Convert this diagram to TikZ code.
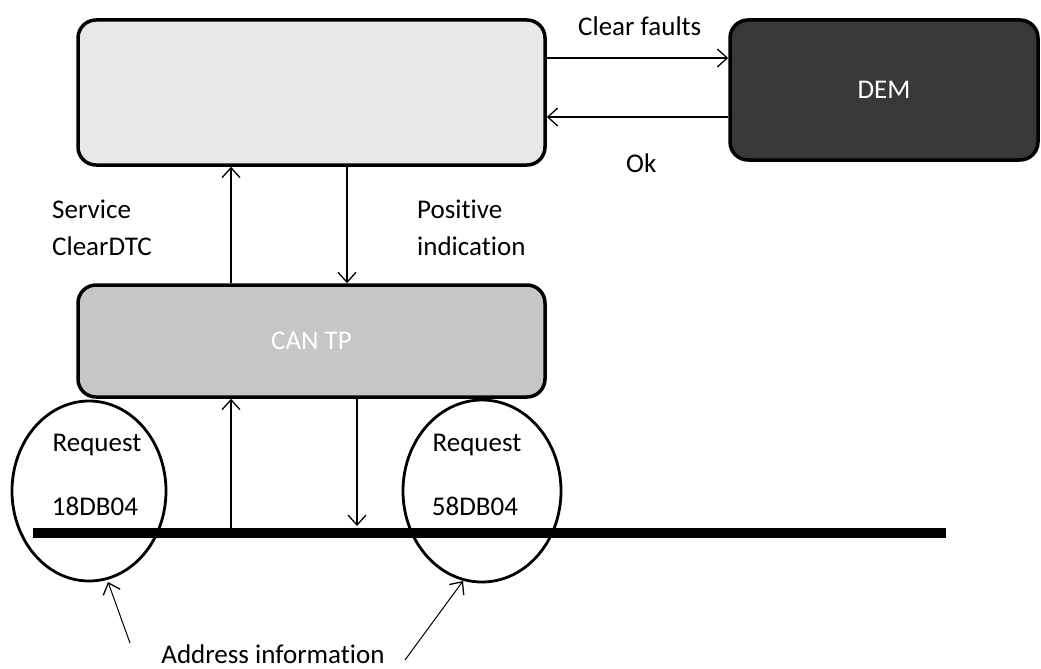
\documentclass[tikz,border=0pt]{standalone}
\usepackage{fontspec}
\setmainfont{Carlito}[Ligatures=CommonOff]
\usetikzlibrary{arrows.meta}
\begin{document}
\begin{tikzpicture}[x=1pt,y=-1pt,
  box/.style={draw=black,line width=3.5pt,rounded corners=18pt,inner sep=0pt},
  lbl/.style={font=\fontsize{27}{37}\selectfont,align=left,text=black,inner sep=0pt},
  conn/.style={line width=1.3pt,-{Straight Barb[length=10pt,width=18pt,line width=1.3pt]}},
]
\useasboundingbox (0,0) rectangle (1041,669);
% boxes
\node[box,fill=gray!18,minimum width=467pt,minimum height=145pt] (dcm) at (311.5,92.5) {};
\node[box,fill=black!78,minimum width=308pt,minimum height=140pt,text=white,font=\fontsize{27}{30}\selectfont] (dem) at (884,90) {DEM};
\node[box,fill=gray!45,minimum width=467pt,minimum height=112pt,text=white,font=\fontsize{27}{30}\selectfont] (cantp) at (311.5,341) {CAN TP};
% bus
\coordinate (busL) at (33,533);
\coordinate (busR) at (946,533);
% ellipses
\draw[line width=2.8pt] (89,491) ellipse [x radius=77pt, y radius=90pt];
\draw[line width=2.8pt] (482,491) ellipse [x radius=79pt, y radius=91pt];
\coordinate (e1b) at (108,582);
\coordinate (e2b) at (463,581);
\draw[line width=10pt] (busL) -- (busR);
% arrows top
\draw[conn] (dcm.east |- 0,58) -- (dem.west |- 0,58);
\draw[conn] (dem.west |- 0,117) -- (dcm.east |- 0,117);
\draw[conn] (cantp.north -| 231,0) -- (dcm.south -| 231,0);
\draw[conn] (dcm.south -| 347,0) -- (cantp.north -| 347,0);
% arrows bottom
\coordinate (upS) at (231,528);
\coordinate (dnE) at (357,526);
\draw[conn] (upS) -- (cantp.south -| 231,0);
\draw[conn] (cantp.south -| 357,0) -- (dnE);
% labels
\node[lbl,anchor=west] (cf) at (578,26) {Clear faults};
\node[lbl,anchor=west] (ok) at (626,163) {Ok};
\node[lbl,anchor=west] (svc) at (52,228) {Service\\ClearDTC};
\node[lbl,anchor=west] (pos) at (417,228) {Positive\\indication};
\node[lbl] (r1) at (97,445) {Request};
\node[lbl] (a1) at (95,506) {18DB04};
\node[lbl] (r2) at (477,445) {Request};
\node[lbl] (a2) at (475,506) {58DB04};
\node[lbl] (addr) at (273,654) {Address information};
\coordinate (p1) at (130,643);
\coordinate (p2) at (405,660);
\draw[conn,line width=1pt] (p1) -- (e1b);
\draw[conn,line width=1pt] (p2) -- (e2b);
\end{tikzpicture}
\end{document}
